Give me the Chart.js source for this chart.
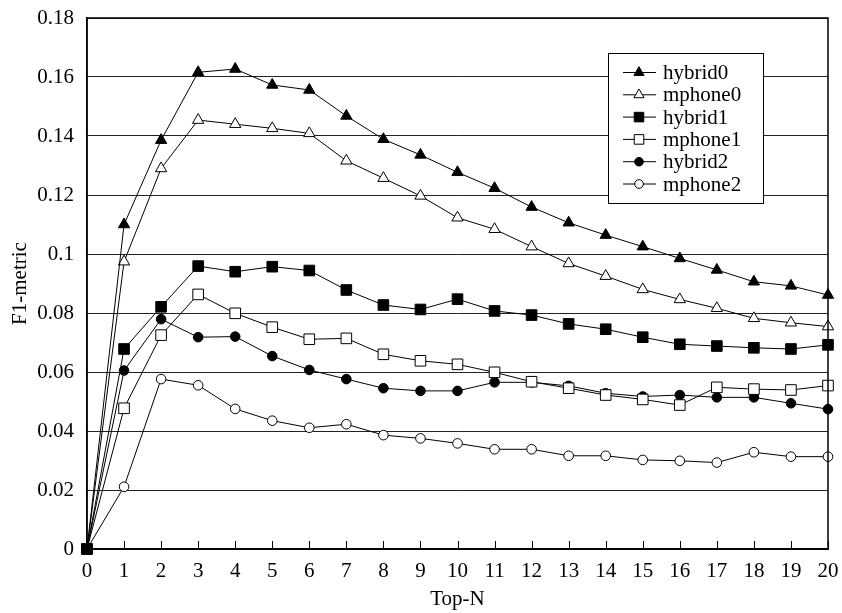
<!DOCTYPE html>
<html>
<head>
<meta charset="utf-8">
<script src="https://cdn.jsdelivr.net/npm/chart.js@4/dist/chart.umd.min.js"></script>
<style>
  html, body { margin: 0; padding: 0; background: #fff; }
  #wrap { width: 842px; height: 613px; }
</style>
</head>
<body>
<div id="wrap"><canvas id="c" width="842" height="613"></canvas></div>
<script>
const categories = ['0','1','2','3','4','5','6','7','8','9','10','11','12','13','14','15','16','17','18','19','20'];
const yTickValues = [0, 0.02, 0.04, 0.06, 0.08, 0.1, 0.12, 0.14, 0.16, 0.18];
const yTickLabels = ['0', '0.02', '0.04', '0.06', '0.08', '0.1', '0.12', '0.14', '0.16', '0.18'];
const seriesNames = ['hybrid0', 'mphone0', 'hybrid1', 'mphone1', 'hybrid2', 'mphone2'];

const hybrid0 = [0, 0.110, 0.1386, 0.1616, 0.1627, 0.1573, 0.1556, 0.1468, 0.1389, 0.1336, 0.1277, 0.1223, 0.1159, 0.1106, 0.1064, 0.1025, 0.0985, 0.0946, 0.0906, 0.0892, 0.0861];
const mphone0 = [0, 0.0974, 0.129, 0.1454, 0.1440, 0.1426, 0.1409, 0.1316, 0.1257, 0.1197, 0.1123, 0.1084, 0.1025, 0.0968, 0.0925, 0.0880, 0.0846, 0.0816, 0.0782, 0.0767, 0.0754];
const hybrid1 = [0, 0.0678, 0.0821, 0.0959, 0.0940, 0.0957, 0.0944, 0.0878, 0.0827, 0.0812, 0.0847, 0.0807, 0.0793, 0.0763, 0.0745, 0.0718, 0.0694, 0.0688, 0.0682, 0.0678, 0.0692];
const mphone1 = [0, 0.0477, 0.0725, 0.0863, 0.0799, 0.0752, 0.0711, 0.0714, 0.0660, 0.0638, 0.0626, 0.0599, 0.0567, 0.0545, 0.0522, 0.0507, 0.0488, 0.0548, 0.0542, 0.0539, 0.0554];
const hybrid2 = [0, 0.0605, 0.0779, 0.0718, 0.0720, 0.0654, 0.0607, 0.0576, 0.0545, 0.0536, 0.0536, 0.0565, 0.0565, 0.0553, 0.0528, 0.0517, 0.0522, 0.0514, 0.0514, 0.0494, 0.0474];
const mphone2 = [0, 0.0211, 0.0576, 0.0555, 0.0475, 0.0435, 0.0411, 0.0423, 0.0386, 0.0375, 0.0358, 0.0338, 0.0338, 0.0316, 0.0316, 0.0302, 0.0299, 0.0293, 0.0328, 0.0313, 0.0313];

const seriesValues = [hybrid0, mphone0, hybrid1, mphone1, hybrid2, mphone2];
const styles = [
  { shape: 'triangle', fill: '#000', r: 6.5 },
  { shape: 'triangle', fill: '#fff', r: 6.5 },
  { shape: 'rect', fill: '#000', r: 7.5 },
  { shape: 'rect', fill: '#fff', r: 7.5 },
  { shape: 'circle', fill: '#000', r: 4.8 },
  { shape: 'circle', fill: '#fff', r: 4.8 }
];
const FONT = '"Liberation Serif", "Times New Roman", serif';

const datasets = seriesValues.map((vals, i) => ({
  label: seriesNames[i],
  data: vals,
  borderColor: '#000',
  borderWidth: 1,
  backgroundColor: styles[i].fill,
  pointStyle: styles[i].shape,
  pointRadius: styles[i].r,
  pointHoverRadius: styles[i].r,
  pointBackgroundColor: styles[i].fill,
  pointBorderColor: '#000',
  pointBorderWidth: 1,
  tension: 0,
  fill: false,
  clip: false,
  order: i === 2 ? -1 : i
}));

function drawMarker(ctx, shape, x, y, r, fill) {
  ctx.beginPath();
  if (shape === 'triangle') {
    let a = 0;
    ctx.moveTo(x + Math.sin(a) * r, y - Math.cos(a) * r);
    a += 2 * Math.PI / 3;
    ctx.lineTo(x + Math.sin(a) * r, y - Math.cos(a) * r);
    a += 2 * Math.PI / 3;
    ctx.lineTo(x + Math.sin(a) * r, y - Math.cos(a) * r);
    ctx.closePath();
  } else if (shape === 'rect') {
    const s = Math.SQRT1_2 * r;
    ctx.rect(x - s, y - s, 2 * s, 2 * s);
  } else {
    ctx.arc(x, y, r, 0, Math.PI * 2);
  }
  ctx.fillStyle = fill;
  ctx.fill();
  ctx.strokeStyle = '#000';
  ctx.lineWidth = 1;
  ctx.stroke();
}

const framePlugin = {
  id: 'frame',
  afterDatasetsDraw(chart) {
    const { ctx, chartArea: a, scales } = chart;
    ctx.save();
    ctx.strokeStyle = '#000';
    ctx.lineWidth = 1.5;
    ctx.strokeRect(a.left, a.top, a.right - a.left, a.bottom - a.top);
    ctx.lineWidth = 1;
    const xs = scales.x;
    xs.ticks.forEach((t, i) => {
      const px = Math.round(xs.getPixelForTick(i)) + 0.5;
      ctx.beginPath();
      ctx.moveTo(px, a.bottom);
      ctx.lineTo(px, a.bottom - 8);
      ctx.stroke();
    });
    ctx.restore();
  },
  afterDraw(chart) {
    const { ctx } = chart;
    const box = { x: 608, y: 53, w: 155, h: 150 };
    ctx.save();
    ctx.fillStyle = '#fff';
    ctx.fillRect(box.x, box.y, box.w, box.h);
    ctx.strokeStyle = '#000';
    ctx.lineWidth = 1;
    ctx.strokeRect(box.x + 0.5, box.y + 0.5, box.w, box.h);
    ctx.font = '21px ' + FONT;
    ctx.textBaseline = 'middle';
    ctx.textAlign = 'left';
    chart.data.datasets.forEach((ds, i) => {
      const y = 72.5 + i * 22.3;
      ctx.beginPath();
      ctx.moveTo(623, y);
      ctx.lineTo(656, y);
      ctx.strokeStyle = '#000';
      ctx.lineWidth = 1;
      ctx.stroke();
      drawMarker(ctx, styles[i].shape, 639, y, styles[i].r * 0.9, styles[i].fill);
      ctx.fillStyle = '#000';
      ctx.fillText(ds.label, 663, y + 1);
    });
    ctx.restore();
  }
};

new Chart(document.getElementById('c'), {
  type: 'line',
  data: { labels: categories, datasets },
  options: {
    responsive: false,
    animation: false,
    events: [],
    layout: { padding: { top: 18, right: 14, left: 0, bottom: 0 } },
    plugins: { legend: { display: false }, tooltip: { enabled: false } },
    scales: {
      x: {
        type: 'category',
        offset: false,
        grid: { display: false, drawTicks: false },
        border: { display: true, color: '#000', width: 1.5 },
        ticks: { color: '#000', font: { family: FONT, size: 21 }, padding: 10, maxRotation: 0, autoSkip: false },
        title: { display: true, text: 'Top-N', color: '#000', font: { family: FONT, size: 21 }, padding: { top: 0, bottom: 1 } },
        afterFit(s) { s.height = 64; s.paddingLeft = 0; s.paddingRight = 0; }
      },
      y: {
        min: 0,
        max: 0.18,
        afterBuildTicks(s) { s.ticks = yTickValues.map(v => ({ value: v })); },
        grid: { color: '#222', lineWidth: 1, drawTicks: false },
        border: { display: true, color: '#000', width: 1.5 },
        ticks: {
          color: '#000',
          font: { family: FONT, size: 21 },
          padding: 13,
          callback: (v, i) => yTickLabels[i]
        },
        title: { display: true, text: 'F1-metric', color: '#000', font: { family: FONT, size: 21 }, padding: { top: 8, bottom: 0 } },
        afterFit(s) { s.width = 87; s.paddingTop = 0; s.paddingBottom = 0; }
      }
    }
  },
  plugins: [framePlugin]
});
</script>
</body>
</html>
